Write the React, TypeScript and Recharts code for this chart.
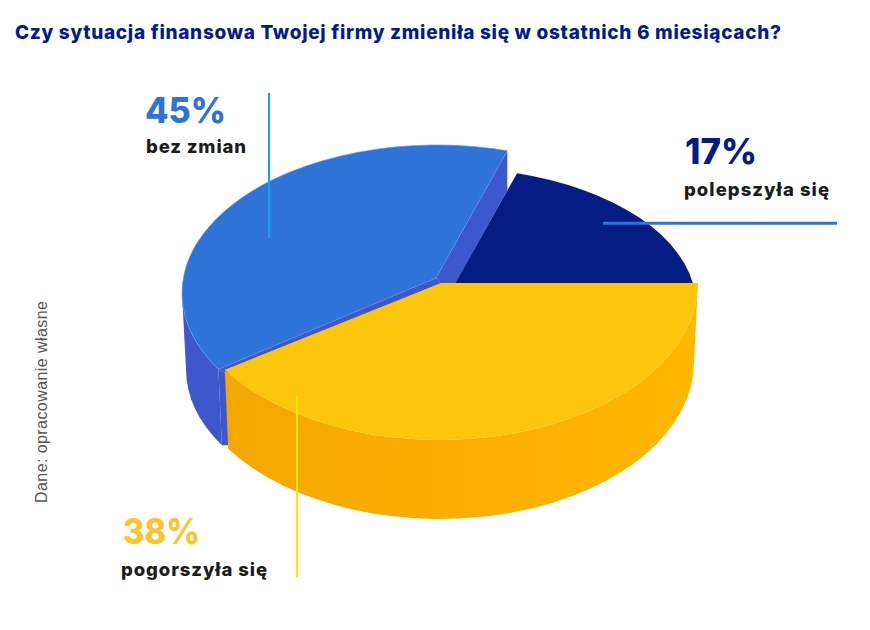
import { Pie, PieChart } from 'recharts'

// Labels as printed on the chart
const categories = ['polepszyła się', 'bez zmian', 'pogorszyła się']
const percentLabels = ['17%', '45%', '38%']
// Sweep of each drawn slice in degrees. The reference's
// 3D drawing does not follow the printed percentages, so these differ from them.
const drawnSweep = [75, 136, 149]

const colors = ['#051c85', '#2d73d8', '#fdc50c']
const labelColors = ['#051c85', '#2d73d8', '#fdc32a']

const CX = 440
const CY = 283
const RADIUS = 258

// perspective makes every slice its own ellipse, given relative to the pie centre
const sliceShapes = [
  { apex: [15, 0], center: [9, 22], rx: 247, ry: 137, trim: [5, -1], depth: 0, bottomRx: 0, sideFrom: 0 },
  { apex: [-4, -5], center: [-3, 10], rx: 255, ry: 148, trim: [-1, 0], depth: 76, bottomRx: 251, sideFrom: 180 },
  { apex: [1, 0], center: [0, 0], rx: 258, ry: 157, trim: [2.5, 0], depth: 79, bottomRx: 254, sideFrom: 0 }
]

const pt = (cx: number, cy: number, rx: number, ry: number, deg: number) => {
  const a = (deg * Math.PI) / 180
  return [cx + rx * Math.cos(a), cy - ry * Math.sin(a)]
}

const xy = (p: number[]) => `${p[0].toFixed(2)} ${p[1].toFixed(2)}`

function Slice3D(props: any) {
  const { cx, cy, outerRadius, startAngle, endAngle, index } = props
  const i = index ?? categories.indexOf(props.name)
  const s = sliceShapes[i]
  const k = outerRadius / RADIUS
  const ex = cx + s.center[0]
  const ey = cy + s.center[1]
  const apex = [cx + s.apex[0], cy + s.apex[1]]
  const from = Math.min(startAngle, endAngle) + s.trim[0]
  const to = Math.max(startAngle, endAngle) + s.trim[1]
  const rx = s.rx * k
  const ry = s.ry * k
  const pStart = pt(ex, ey, rx, ry, from)
  const pEnd = pt(ex, ey, rx, ry, to)
  const large = to - from > 180 ? 1 : 0
  const top = `M${xy(apex)} L${xy(pStart)} A${rx} ${ry} 0 ${large} 0 ${xy(pEnd)} Z`

  let side = null
  if (s.depth > 0) {
    const sFrom = Math.max(from, s.sideFrom)
    const bRx = s.bottomRx * k
    const by = ey + s.depth
    const a = pt(ex, ey, rx, ry, sFrom)
    const b = pt(ex, ey, rx, ry, to)
    const c = pt(ex, by, bRx, ry, to)
    const d = pt(ex, by, bRx, ry, sFrom)
    const sideLarge = to - sFrom > 180 ? 1 : 0
    side = (
      <path
        d={`M${xy(a)} A${rx} ${ry} 0 ${sideLarge} 0 ${xy(b)} L${xy(c)} A${bRx} ${ry} 0 ${sideLarge} 1 ${xy(d)} Z`}
        fill={i === 2 ? 'url(#yellowSide)' : '#3d57cd'}
      />
    )
  }

  let walls = null
  if (i === 1) {
    const lower = pt(ex, ey + s.depth, s.bottomRx * k, ry, to)
    const gapEnd = [pEnd[0] + 9, pEnd[1] + 5]
    walls = (
      <g fill="#3d57cd">
        <path d={`M${xy(apex)} L${xy(pStart)} L${xy([pStart[0], pStart[1] + 40])} L${xy([apex[0] + 19, apex[1] + 6])} L${xy([apex[0] + 5, apex[1] + 6])} Z`} />
        <path d={`M${xy(apex)} L${xy(pEnd)} L${xy(gapEnd)} L${xy([apex[0] + 5, apex[1] + 6])} Z`} />
        <path d={`M${xy(pEnd)} L${xy(lower)} L${xy([lower[0] + 8, lower[1]])} L${xy(gapEnd)} Z`} />
      </g>
    )
  }

  return (
    <g>
      {side}
      {walls}
      <path d={top} fill={props.fill} stroke={i === 1 ? '#5c8fe4' : 'none'} strokeWidth={0.6} />
    </g>
  )
}

const chartData = categories.map((name, i) => ({
  name,
  sweep: drawnSweep[i],
  fill: colors[i]
}))

const boldFont = 'Inter, "Open Sans", sans-serif'

export default function App() {
  return (
    <div style={{ position: 'absolute', left: 0, top: 0, width: 870, height: 630, background: '#fff' }}>
      <PieChart width={870} height={630} margin={{ top: 0, right: 0, bottom: 0, left: 0 }}>
        <defs>
          <linearGradient id="yellowSide" x1="0" y1="0" x2="1" y2="0">
            <stop offset="0" stopColor="#f2a803" />
            <stop offset="0.5" stopColor="#fbae00" />
            <stop offset="1" stopColor="#ffb800" />
          </linearGradient>
        </defs>
        <Pie
          data={chartData}
          dataKey="sweep"
          nameKey="name"
          cx={CX}
          cy={CY}
          innerRadius={0}
          outerRadius={RADIUS}
          startAngle={0}
          endAngle={360}
          stroke="none"
          isAnimationActive={false}
          shape={Slice3D}
        />
      </PieChart>

      {/* leader lines and labels sit over the pie, so they get their own layer */}
      <svg width={870} height={630} style={{ position: 'absolute', left: 0, top: 0 }}>
        <line x1={269} y1={93} x2={269} y2={238} stroke="#0fa5e6" strokeWidth={2} />
        <line x1={603} y1={223.3} x2={837} y2={223.3} stroke="#2d73d8" strokeWidth={3} />
        <line x1={297} y1={396} x2={297} y2={577} stroke="#ffe800" strokeWidth={2} />

        <text x={15} y={39} fill="#051c85" fontFamily={boldFont} fontWeight={800} fontSize={19} textLength={766}>
          Czy sytuacja finansowa Twojej firmy zmieniła się w ostatnich 6 miesiącach?
        </text>

        <text x={145} y={123} fill={labelColors[1]} fontFamily={boldFont} fontWeight={800} fontSize={35} textLength={81} lengthAdjust="spacingAndGlyphs">
          {percentLabels[1]}
        </text>
        <text x={146} y={153} fill="#1c1c1c" fontFamily={boldFont} fontWeight={800} fontSize={18.5} textLength={100}>
          {categories[1]}
        </text>

        <text x={685} y={164} fill={labelColors[0]} fontFamily={boldFont} fontWeight={800} fontSize={35} textLength={72} lengthAdjust="spacingAndGlyphs">
          {percentLabels[0]}
        </text>
        <text x={684} y={196} fill="#1c1c1c" fontFamily={boldFont} fontWeight={800} fontSize={18.5} textLength={145}>
          {categories[0]}
        </text>

        <text x={123} y={544} fill={labelColors[2]} fontFamily={boldFont} fontWeight={800} fontSize={35} textLength={77} lengthAdjust="spacingAndGlyphs">
          {percentLabels[2]}
        </text>
        <text x={121} y={576} fill="#1c1c1c" fontFamily={boldFont} fontWeight={800} fontSize={18.5} textLength={146}>
          {categories[2]}
        </text>

        <text
          transform="translate(47 503) rotate(-90)"
          fill="#555"
          fontFamily='"Liberation Sans", sans-serif'
          fontSize={16}
          textLength={202}
        >
          Dane: opracowanie własne
        </text>
      </svg>
    </div>
  )
}
